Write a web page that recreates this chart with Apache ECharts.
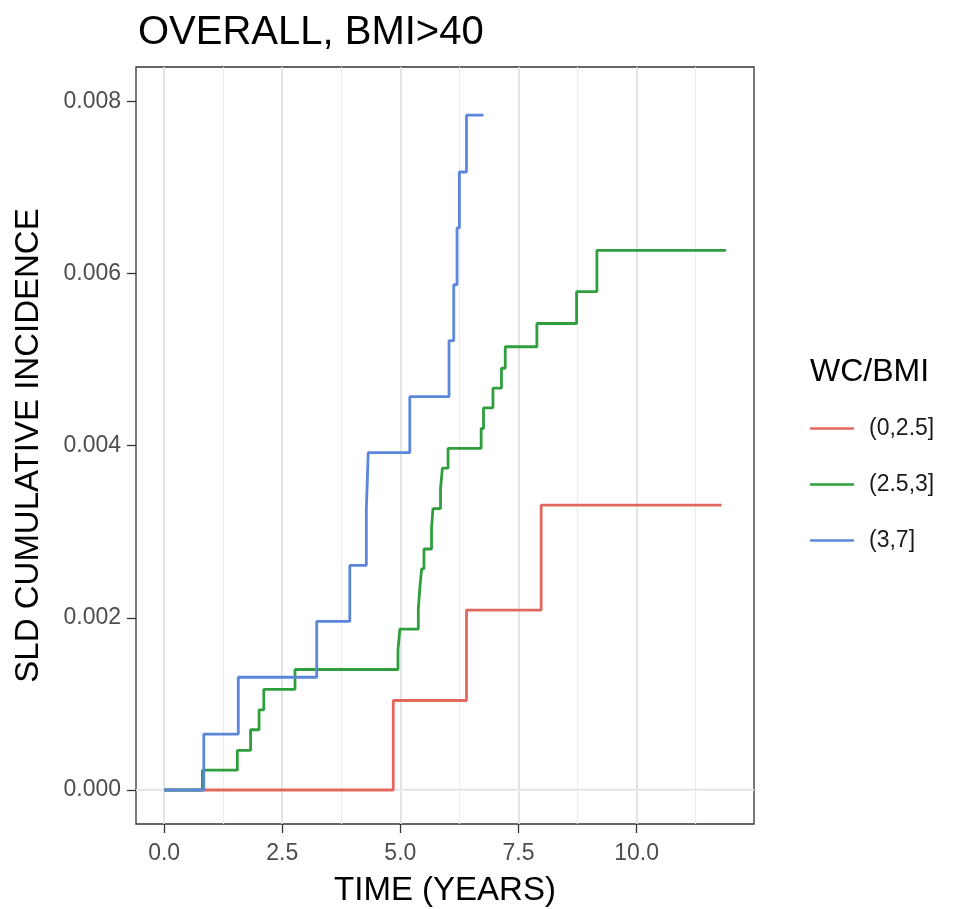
<!DOCTYPE html>
<html>
<head>
<meta charset="utf-8">
<script src="https://cdn.jsdelivr.net/npm/echarts@6/dist/echarts.min.js"></script>
<style>
  html, body { margin: 0; padding: 0; background: #fff; }
  #chart { width: 956px; height: 909px; }
</style>
</head>
<body>
<div id="chart"></div>
<script>
// cumulative incidence step curves
const groupNames = ['(0,2.5]', '(2.5,3]', '(3,7]']

const timeLow = [0, 4.85, 6.40, 7.98, 11.80]
const incLow = [0, 0.00104, 0.00209, 0.00331, 0.00331]

const timeMid = [0, 0.81, 1.55, 1.83, 2.01, 2.11, 2.77, 4.95, 4.99, 5.38, 5.41, 5.45, 5.50, 5.66,
  5.69, 5.85, 5.89, 6.01, 6.71, 6.76, 6.96, 7.14, 7.22, 7.89, 8.73, 9.16, 11.89]
const incMid = [0, 0.00023, 0.00046, 0.00070, 0.00093, 0.00117, 0.00140, 0.00163, 0.00187, 0.00210,
  0.00233, 0.00257, 0.00280, 0.00304, 0.00327, 0.00350, 0.00374, 0.00397, 0.00420, 0.00444,
  0.00467, 0.00490, 0.00515, 0.00542, 0.00579, 0.00627, 0.00627]

const timeHigh = [0, 0.84, 1.57, 3.23, 3.93, 4.28, 4.32, 5.20, 6.03, 6.13, 6.20, 6.25, 6.40, 6.76]
const incHigh = [0, 0.00065, 0.00131, 0.00196, 0.00261, 0.00326, 0.00392, 0.00457, 0.00522,
  0.00587, 0.00653, 0.00718, 0.00784, 0.00784]

const xTicks = [0, 2.5, 5, 7.5, 10]
const xMinorGrid = [1.25, 3.75, 6.25, 8.75, 11.25]
const yTicks = [0, 0.002, 0.004, 0.006, 0.008]
const yMinorGrid = [0.001, 0.003, 0.005, 0.007]

const colors = ['#e2685f', '#2f9f3d', '#5b86dc']
const font = 'Liberation Sans, Arial, sans-serif'

const zip = (xs, ys) => xs.map((x, i) => [x, ys[i]])

const major = { color: '#e0e0e0', width: 1.7, type: 'solid' }
const minor = { color: '#ececec', width: 1.1, type: 'solid' }
const gridLines = []
xTicks.forEach(v => gridLines.push({ xAxis: v, lineStyle: major }))
xMinorGrid.forEach(v => gridLines.push({ xAxis: v, lineStyle: minor }))
yTicks.forEach(v => gridLines.push({ yAxis: v, lineStyle: major }))
yMinorGrid.forEach(v => gridLines.push({ yAxis: v, lineStyle: minor }))

const chart = echarts.init(document.getElementById('chart'), null, { renderer: 'canvas' })

const curve = (name, xs, ys, color, z) => ({
  name: name,
  type: 'line',
  step: 'end',
  data: zip(xs, ys),
  showSymbol: false,
  symbol: 'none',
  z: z,
  lineStyle: { color: color, width: 2.8 },
  itemStyle: { color: color },
  animation: false
})

chart.setOption({
  animation: false,
  textStyle: { fontFamily: font },
  title: [
    {
      text: 'OVERALL, BMI>40',
      left: 133,
      top: 8,
      textStyle: { fontSize: 40, fontWeight: 'normal', color: '#000', fontFamily: font }
    },
    {
      text: 'WC/BMI',
      left: 805,
      top: 351,
      textStyle: { fontSize: 32, fontWeight: 'normal', color: '#000', fontFamily: font }
    }
  ],
  legend: {
    orient: 'vertical',
    left: 805,
    top: 412,
    icon: 'rect',
    itemWidth: 44,
    itemHeight: 2.6,
    itemGap: 33,
    data: groupNames,
    textStyle: { fontSize: 23, color: '#1a1a1a', fontFamily: font, padding: [0, 0, 0, 10] }
  },
  grid: {
    left: 136,
    right: 202,
    top: 67,
    bottom: 85,
    containLabel: false,
    outerBoundsMode: 'none',
    show: true,
    borderColor: '#333',
    borderWidth: 1.3,
    backgroundColor: '#fff'
  },
  xAxis: {
    type: 'value',
    min: -0.595,
    max: 12.485,
    name: 'TIME (YEARS)',
    nameLocation: 'middle',
    nameGap: 50,
    nameTextStyle: { fontSize: 33, color: '#000', fontFamily: font },
    axisLine: { show: false, onZero: false },
    splitLine: { show: false },
    axisTick: { show: true, length: 9, customValues: xTicks, lineStyle: { color: '#333', width: 1.3 } },
    axisLabel: {
      customValues: xTicks,
      formatter: v => v.toFixed(1),
      fontSize: 23,
      color: '#4d4d4d',
      margin: 18
    }
  },
  yAxis: {
    type: 'value',
    min: -0.000395,
    max: 0.0084,
    name: 'SLD CUMULATIVE INCIDENCE',
    nameLocation: 'middle',
    nameGap: 91,
    nameTextStyle: { fontSize: 33, color: '#000', fontFamily: font },
    axisLine: { show: false, onZero: false },
    splitLine: { show: false },
    axisTick: { show: true, length: 9, customValues: yTicks, lineStyle: { color: '#333', width: 1.3 } },
    axisLabel: {
      customValues: yTicks,
      formatter: v => v.toFixed(3),
      fontSize: 23,
      color: '#4d4d4d',
      margin: 15
    }
  },
  series: [
    {
      name: 'grid',
      type: 'line',
      data: [[0, 0]],
      symbol: 'none',
      lineStyle: { opacity: 0 },
      silent: true,
      z: 1,
      markLine: {
        silent: true,
        symbol: 'none',
        z: 1,
        label: { show: false },
        animation: false,
        data: gridLines
      }
    },
    curve(groupNames[0], timeLow, incLow, colors[0], 3),
    curve(groupNames[1], timeMid, incMid, colors[1], 4),
    curve(groupNames[2], timeHigh, incHigh, colors[2], 5)
  ]
})
</script>
</body>
</html>
